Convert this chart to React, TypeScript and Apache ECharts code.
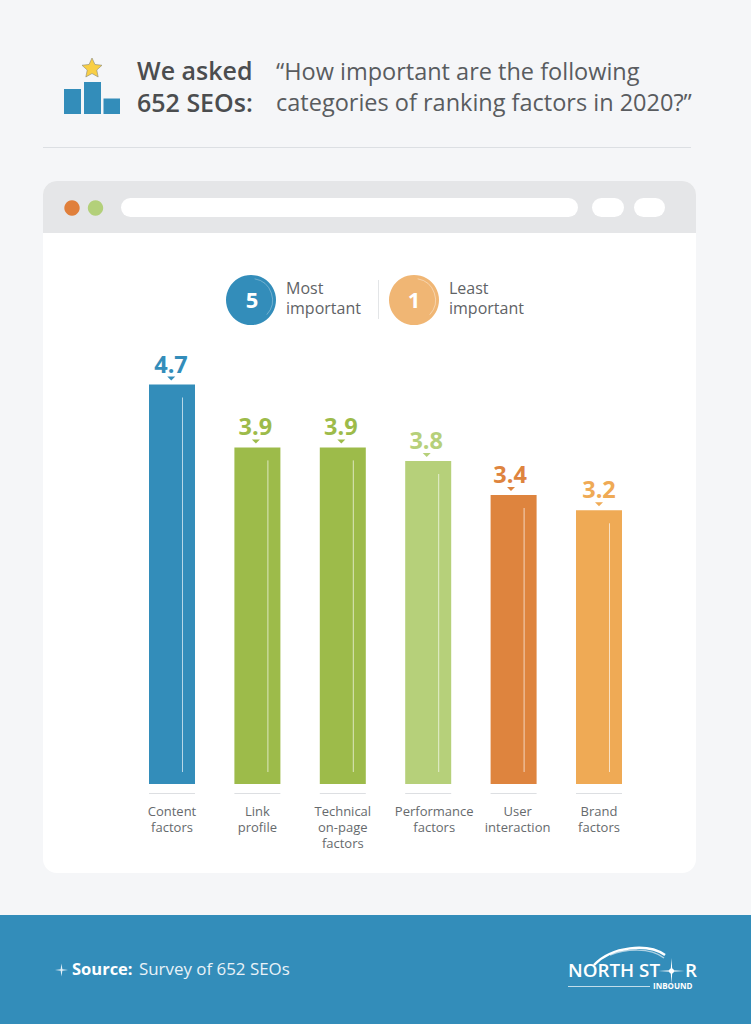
import React, { useEffect, useRef } from "react";
import * as echarts from "echarts";

const categories = ["Content\nfactors", "Link\nprofile", "Technical\non-page\nfactors", "Performance\nfactors", "User\ninteraction", "Brand\nfactors"];
const barHeights = [4.7, 3.96, 3.96, 3.8, 3.4, 3.22];
const printedValues = ["4.7", "3.9", "3.9", "3.8", "3.4", "3.2"];
const barColors = ["#338dba", "#9dbb4a", "#9dbb4a", "#b6d07a", "#de843e", "#efaa55"];
const labelPaddingLeft = [0, 0, 0, 12, 8, 0];
const valueLabelShift = [-1, -2, -2, -2, -3.5, 0];

const FONT = "'Open Sans', sans-serif";
const BLUE = "#338dba";

const star = (cx: number, cy: number, R: number, r: number, n: number) => {
  const pts: number[][] = [];
  for (let i = 0; i < n * 2; i++) {
    const a = -Math.PI / 2 + (i * Math.PI) / n;
    const q = i % 2 ? r : R;
    pts.push([cx + q * Math.cos(a), cy + q * Math.sin(a)]);
  }
  return pts;
};

// y is the text's baseline
const txt = (x: number, y: number, text: string, fontSize: number, fill: string, fontWeight: any = 400, extra: any = {}) => ({
  type: "text",
  x,
  y: y - 0.39 * fontSize,
  style: { text, fontSize, fill, fontWeight, fontFamily: FONT, verticalAlign: "middle", ...extra },
});
const rect = (x: number, y: number, width: number, height: number, fill: string, r: any = 0) => ({
  type: "rect",
  shape: { x, y, width, height, r },
  style: { fill },
});
const circle = (cx: number, cy: number, r: number, fill: string) => ({ type: "circle", shape: { cx, cy, r }, style: { fill } });
const arc = (cx: number, cy: number, r: number, startAngle: number, endAngle: number, stroke: string, lineWidth = 1) => ({
  type: "arc",
  shape: { cx, cy, r, startAngle, endAngle },
  style: { stroke, lineWidth, fill: "none" },
});

export default function App() {
  const ref = useRef<HTMLDivElement>(null);
  useEffect(() => {
    document.body.style.margin = "0";
    const chart = echarts.init(ref.current!, null, { renderer: "svg" });
    chart.setOption({
      animation: false,
      backgroundColor: "#f5f6f8",
      grid: { left: 129.3, width: 512.4, top: 359, height: 425 },
      xAxis: {
        type: "category",
        data: categories.map((value, i) => ({ value, textStyle: { padding: [0, 0, 0, labelPaddingLeft[i]] } })),
        axisLine: { show: false },
        axisTick: { show: false },
        axisLabel: { color: "#666a6d", fontSize: 13, lineHeight: 16, fontFamily: FONT, margin: 19, interval: 0 },
      },
      yAxis: { type: "value", min: 0, max: 5, show: false },
      series: [
        {
          type: "bar",
          barWidth: 46,
          data: barHeights.map((value, i) => ({
            value,
            itemStyle: { color: barColors[i] },
            label: { formatter: printedValues[i], color: barColors[i], offset: [valueLabelShift[i], 0] },
          })),
          label: { show: true, position: "top", distance: 9, fontSize: 23.5, fontWeight: 700, fontFamily: FONT },
        },
        {
          type: "custom",
          data: barHeights,
          z: 5,
          silent: true,
          renderItem: (_p: any, api: any) => {
            const [x, top] = api.coord([api.value(0), api.value(1)]);
            const [, base] = api.coord([api.value(0), 0]);
            const i = api.value(0);
            const tx = x + valueLabelShift[i] * 0.75;
            return {
              type: "group",
              children: [
                { type: "line", shape: { x1: x + 10.5, y1: top + 13, x2: x + 10.5, y2: base - 12 }, style: { stroke: "rgba(255,255,255,0.65)", lineWidth: 1 } },
                { type: "line", shape: { x1: x - 23, y1: base + 9.5, x2: x + 23, y2: base + 9.5 }, style: { stroke: "#dddfe2", lineWidth: 1 } },
                { type: "polygon", shape: { points: [[tx - 4, top - 8], [tx + 4, top - 8], [tx, top - 4]] }, style: { fill: barColors[i] } },
              ],
            };
          },
        },
      ],
      graphic: [
        // header
        rect(64, 89, 17, 25, BLUE),
        rect(84, 82, 17, 32, BLUE),
        rect(103.5, 98.5, 16.5, 15.5, BLUE),
        { type: "polygon", shape: { points: star(92, 68.5, 10.5, 5, 5) }, style: { fill: "#f9cf45", stroke: "#8a8a78", lineWidth: 0.6 } },
        txt(137, 80, "We asked", 25, "#4b4d4f", 600),
        txt(137, 112, "652 SEOs:", 25, "#4b4d4f", 600),
        txt(276, 80, "“How important are the following", 23.5, "#595c5f"),
        txt(276, 111, "categories of ranking factors in 2020?”", 23.5, "#595c5f"),
        rect(43, 147, 648, 1, "#dcdfe3"),
        // card
        rect(43, 181, 653, 692, "#ffffff", 14),
        rect(43, 181, 653, 52, "#e5e6e8", [14, 14, 0, 0]),
        circle(72, 208, 7.7, "#e07f3b"),
        circle(95.5, 208, 7.7, "#b3d07a"),
        rect(121, 198, 457, 19, "#ffffff", 9.5),
        rect(592, 198, 32, 19, "#ffffff", 9.5),
        rect(634, 198, 31, 19, "#ffffff", 9.5),
        // legend
        circle(251, 300, 25, BLUE),
        arc(251, 300, 21.5, -1.4, 0.75, "rgba(255,255,255,0.3)"),
        txt(252, 308, "5", 22, "#ffffff", 700, { align: "center" }),
        txt(286, 294, "Most", 16, "#5f6366"),
        txt(286, 314, "important", 16, "#5f6366"),
        rect(378, 280, 1, 39, "#e3e5e7"),
        circle(414, 300, 25, "#f0b674"),
        arc(414, 300, 21.5, -1.4, 0.75, "rgba(255,255,255,0.4)"),
        txt(414, 308, "1", 22, "#ffffff", 700, { align: "center" }),
        txt(449, 294, "Least", 16, "#5f6366"),
        txt(449, 314, "important", 16, "#5f6366"),
        // footer
        rect(0, 915, 751, 109, BLUE),
        { type: "polygon", shape: { points: star(61.5, 970, 6.5, 1.2, 4) }, style: { fill: "#e4f1f8" } },
        txt(72, 975, "Source:", 16.5, "#ffffff", 700),
        txt(139, 975, "Survey of 652 SEOs", 16.9, "#e8f2f8"),
        // logo
        { type: "bezierCurve", shape: { x1: 594, y1: 965, cpx1: 612, cpy1: 946, cpx2: 648, cpy2: 943, x2: 665, y2: 955 }, style: { stroke: "#ffffff", lineWidth: 2.5, fill: "none" } },
        { type: "bezierCurve", shape: { x1: 610, y1: 955, cpx1: 625, cpy1: 949, cpx2: 650, cpy2: 947, x2: 664, y2: 958 }, style: { stroke: "rgba(255,255,255,0.6)", lineWidth: 1.5, fill: "none" } },
        txt(568, 977, "NORTH ST", 18.8, "#ffffff", 600),
        { type: "polygon", shape: { points: star(671.5, 971, 13, 1.1, 4) }, style: { fill: "#ffffff" } },
        circle(671.5, 971, 2.6, "#ffffff"),
        txt(685, 977, "R", 18.8, "#ffffff", 600),
        rect(568, 986, 82, 1, "rgba(255,255,255,0.7)"),
        txt(653, 989, "INBOUND", 8, "#ffffff", 700),
      ],
    });
    return () => chart.dispose();
  }, []);
  return <div ref={ref} style={{ position: "absolute", left: 0, top: 0, width: 751, height: 1024 }} />;
}
